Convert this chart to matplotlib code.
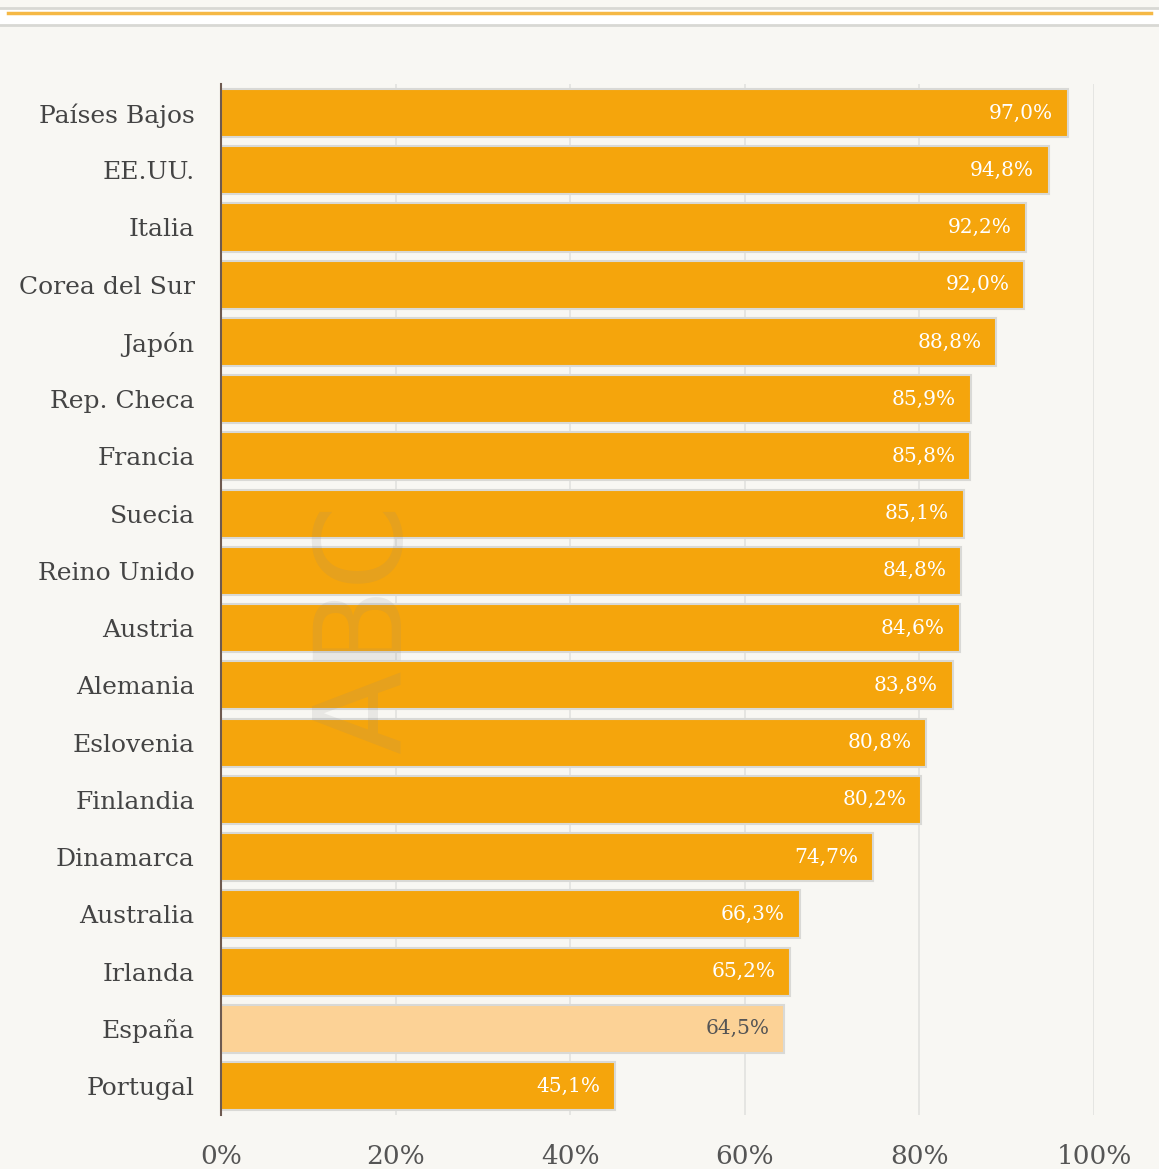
import matplotlib.pyplot as plt
from matplotlib.patches import Rectangle
from matplotlib.lines import Line2D
from matplotlib.ticker import FuncFormatter

countries = ['Países Bajos', 'EE.UU.', 'Italia', 'Corea del Sur', 'Japón',
             'Rep. Checa', 'Francia', 'Suecia', 'Reino Unido', 'Austria',
             'Alemania', 'Eslovenia', 'Finlandia', 'Dinamarca', 'Australia',
             'Irlanda', 'España', 'Portugal']
values = [97.0, 94.8, 92.2, 92.0, 88.8, 85.9, 85.8, 85.1, 84.8, 84.6,
          83.8, 80.8, 80.2, 74.7, 66.3, 65.2, 64.5, 45.1]
highlight = 'España'
xticks = [0, 20, 40, 60, 80, 100]

bg = '#f8f7f3'
orange = '#f5a50c'
light = '#fcd296'

plt.rcParams['font.family'] = ['DejaVu Serif']

fig = plt.figure(figsize=(11.59, 11.69), dpi=100, facecolor=bg)
ax = fig.add_axes([0.1907, 0.0465, 0.944 - 0.1907, 0.9278 - 0.0465])
ax.set_facecolor(bg)

# top decoration band
fig.add_artist(Rectangle((0, 0.9786), 1, 0.0145, transform=fig.transFigure,
                         facecolor='white', edgecolor='none'))
fig.add_artist(Line2D([0, 1], [0.9931, 0.9931], transform=fig.transFigure,
                      color='#d8d8d4', lw=2))
fig.add_artist(Line2D([0, 1], [0.9786, 0.9786], transform=fig.transFigure,
                      color='#d8d8d4', lw=2))
fig.add_artist(Line2D([0.007, 0.993], [0.9886, 0.9886], transform=fig.transFigure,
                      color='#f5b845', lw=2.5))

y = list(range(len(countries)))
colors = [light if c == highlight else orange for c in countries]
bars = ax.barh(y, values, height=0.84, color=colors, edgecolor='#d9d9d6',
               linewidth=1.5, zorder=3)

for yi, v, c in zip(y, values, countries):
    txt = '{:.1f}%'.format(v).replace('.', ',')
    col = '#555555' if c == highlight else 'white'
    ax.text(v - 1.7, yi, txt, ha='right', va='center', fontsize=14.5,
            color=col, zorder=4)

ax.set_ylim(len(countries) - 0.5, -0.5)
ax.set_xlim(0, 100)
ax.set_yticks(y)
ax.set_yticklabels(countries, fontsize=18, color='#444444')
ax.set_xticks(xticks)
ax.xaxis.set_major_formatter(FuncFormatter(lambda x, pos: '{:.0f}%'.format(x)))
ax.tick_params(axis='x', length=0, labelsize=19, labelcolor='#555555', pad=21)
ax.tick_params(axis='y', length=0, pad=19)
ax.grid(axis='x', color='#e2e2df', lw=1.2, zorder=0)

for s in ['top', 'right', 'bottom']:
    ax.spines[s].set_visible(False)
ax.spines['left'].set_color('#6e5a50')
ax.spines['left'].set_linewidth(1.5)
ax.spines['left'].set_zorder(5)

# watermark
ax.text(16.8, 9.0, 'ABC', rotation=90, ha='center', va='center', fontsize=88,
        family='DejaVu Sans', color='#888888', alpha=0.14, zorder=4)

fig.savefig('out.png', dpi=100, facecolor=bg)
